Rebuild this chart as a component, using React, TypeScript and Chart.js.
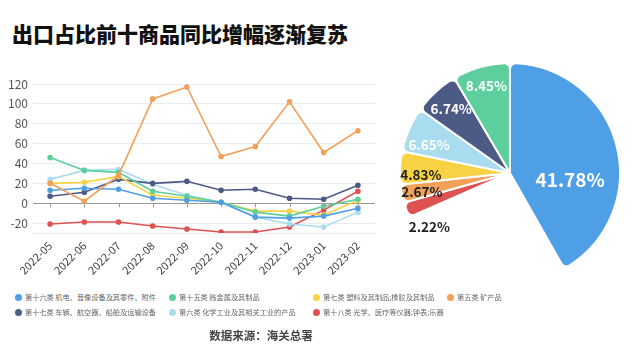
import React, { useEffect, useRef } from "react";
import { Chart, registerables } from "chart.js";

Chart.register(...registerables);

const MONTHS = ["2022-05", "2022-06", "2022-07", "2022-08", "2022-09", "2022-10", "2022-11", "2022-12", "2023-01", "2023-02"];

const SERIES_NAMES = [
  "第十六类 机电、音像设备及其零件、附件",
  "第十五类 贱金属及其制品",
  "第七类 塑料及其制品;橡胶及其制品",
  "第五类 矿产品",
  "第十七类 车辆、航空器、船舶及运输设备",
  "第六类 化学工业及其相关工业的产品",
  "第十八类 光学、医疗等仪器;钟表;乐器",
];
const SERIES_COLORS = ["#4f9fe6", "#5ccf9d", "#f8d245", "#f2a05a", "#4c5a86", "#a9dcef", "#de5252"];

const S16 = [13, 15, 14, 5, 3, 1, -14, -15, -13, -5];
const S15 = [46, 33, 31, 12, 7, 1, -9, -13, -3, 4];
const S07 = [20, 21, 27, 8, 5, 1, -8, -8, -12, 3];
const S05 = [20, 2, 28, 105, 117, 47, 57, 102, 51, 73];
const S17 = [7, 11, 24, 20, 22, 13, 14, 5, 4, 18];
const S06 = [24, 33, 34, 19, 8, 1, -14, -21, -24, -9];
const S18 = [-21, -19, -19, -23, -26, -29, -29, -24, -7, 12];
const SERIES_VALUES = [S16, S15, S07, S05, S17, S06, S18];

const Y_TICKS = [-30, -20, 0, 20, 40, 60, 80, 100, 120];

// export share (%) per series, same order as SERIES_NAMES
const PIE_SHARES = [41.78, 8.45, 4.83, 2.67, 6.74, 6.65, 2.22];
// clockwise drawing order of series indices after the first slice
const PIE_ORDER_FIRST = [0];
const PIE_ORDER_REST = [6, 3, 2, 5, 4, 1];

// label placement: [radius fraction, angle shift in degrees, color, size]
const PIE_LABEL_STYLE: Record<number, [number, number, string, number]> = {
  0: [0.55, 21, "#ffffff", 19],
  6: [0.88, -14, "#222222", 13.5],
  3: [0.82, -1.5, "#222222", 13.5],
  2: [0.81, -3.6, "#222222", 13.5],
  5: [0.78, -4, "#ffffff", 13.5],
  4: [0.79, 0, "#ffffff", 13.5],
  1: [0.82, 0, "#ffffff", 13.5],
};

const FONT = "'Noto Sans CJK SC', 'Noto Sans', sans-serif";

const LEGEND_COLS = [18, 172, 316, 450];
const LEGEND_ROWS = [297, 312];

export default function App() {
  const lineRef = useRef<HTMLCanvasElement>(null);
  const pieRef = useRef<HTMLCanvasElement>(null);

  useEffect(() => {
    document.body.style.margin = "0";
    Chart.defaults.font.family = FONT;

    const zeroTicks = {
      id: "zeroTicks",
      afterDraw(chart: any) {
        const { ctx, scales } = chart;
        const y0 = scales.y.getPixelForValue(0);
        ctx.save();
        ctx.strokeStyle = "#999";
        ctx.lineWidth = 1;
        MONTHS.forEach((_, i) => {
          const x = Math.round(scales.x.getPixelForValue(i)) + 0.5;
          ctx.beginPath();
          ctx.moveTo(x, y0);
          ctx.lineTo(x, y0 + 4);
          ctx.stroke();
        });
        ctx.restore();
      },
    };

    const line = new Chart(lineRef.current!, {
      type: "line",
      data: {
        labels: MONTHS,
        datasets: SERIES_NAMES.map((name, i) => ({
          label: name,
          data: SERIES_VALUES[i],
          borderColor: SERIES_COLORS[i],
          backgroundColor: SERIES_COLORS[i],
          pointBackgroundColor: SERIES_COLORS[i],
          pointBorderColor: SERIES_COLORS[i],
          borderWidth: 1.6,
          pointRadius: 2,
          tension: 0,
          order: i === 3 ? 0 : 1,
        })),
      },
      options: {
        responsive: false,
        animation: false,
        layout: { padding: { top: 24, right: 15, bottom: 0, left: 0 } },
        plugins: { legend: { display: false }, tooltip: { enabled: false } },
        scales: {
          x: {
            offset: true,
            grid: { display: false, drawTicks: false },
            border: { display: false },
            ticks: { minRotation: 45, maxRotation: 45, padding: 6, color: "#444", font: { size: 11 }, autoSkip: false },
            afterFit(scale: any) { scale.height = 52; },
          },
          y: {
            min: -30,
            max: 120,
            afterBuildTicks(scale: any) { scale.ticks = Y_TICKS.map((v) => ({ value: v })); },
            afterFit(scale: any) { scale.width = 33; },
            grid: {
              drawTicks: false,
              color: (c: any) => (c.tick && c.tick.value === 0 ? "#9a9a9a" : "#ececec"),
              lineWidth: 1,
            },
            border: { display: false },
            ticks: {
              padding: 5,
              color: "#555",
              font: { size: 12 },
              callback: (v: any) => (v === -30 ? "" : String(v)),
            },
          },
        },
      },
      plugins: [zeroTicks],
    });

    const order = [...PIE_ORDER_FIRST, -1, ...PIE_ORDER_REST];
    const shown = PIE_SHARES.reduce((a, b) => a + b, 0);
    const pieData = order.map((i) => (i < 0 ? 100 - shown : PIE_SHARES[i]));
    const pieColors = order.map((i) => (i < 0 ? "rgba(0,0,0,0)" : SERIES_COLORS[i]));

    const pieLabels = {
      id: "pieLabels",
      afterDatasetsDraw(chart: any) {
        const { ctx } = chart;
        const meta = chart.getDatasetMeta(0);
        ctx.save();
        ctx.textAlign = "center";
        ctx.textBaseline = "middle";
        meta.data.forEach((arc: any, k: number) => {
          const idx = order[k];
          if (idx < 0) return;
          const [rf, shift, color, size] = PIE_LABEL_STYLE[idx];
          const a = (arc.startAngle + arc.endAngle) / 2 + (shift * Math.PI) / 180;
          const r = arc.outerRadius * rf;
          ctx.font = `bold ${size}px ${FONT}`;
          ctx.fillStyle = color;
          ctx.fillText(PIE_SHARES[idx].toFixed(2) + "%", arc.x + Math.cos(a) * r, arc.y + Math.sin(a) * r);
        });
        ctx.restore();
      },
    };

    const pie = new Chart(pieRef.current!, {
      type: "pie",
      data: {
        labels: order.map((i) => (i < 0 ? "" : SERIES_NAMES[i])),
        datasets: [
          {
            data: pieData,
            backgroundColor: pieColors,
            borderColor: order.map((i) => (i < 0 ? "rgba(0,0,0,0)" : "#ffffff")),
            borderWidth: order.map((i) => (i < 0 ? 0 : 2)),
            borderRadius: 6,
          },
        ],
      },
      options: {
        responsive: false,
        animation: false,
        layout: { padding: { left: 9, right: 19, top: 12, bottom: 12 } },
        plugins: { legend: { display: false }, tooltip: { enabled: false } },
      },
      plugins: [pieLabels],
    });

    return () => {
      line.destroy();
      pie.destroy();
    };
  }, []);

  const legendItems = SERIES_NAMES.map((name, i) => {
    const row = i < 4 ? 0 : 1;
    const col = i < 4 ? i : i - 4;
    return (
      <div
        key={name}
        style={{
          position: "absolute",
          left: LEGEND_COLS[col] - 3.5,
          top: LEGEND_ROWS[row] - 6,
          height: 12,
          display: "flex",
          alignItems: "center",
          whiteSpace: "nowrap",
        }}
      >
        <span style={{ width: 7, height: 7, borderRadius: "50%", background: SERIES_COLORS[i], display: "inline-block", marginRight: 3.5 }} />
        <span style={{ fontSize: 7.2, color: "#666", lineHeight: "12px" }}>{name}</span>
      </div>
    );
  });

  return (
    <div style={{ position: "relative", width: 640, height: 356, background: "#fff", overflow: "hidden", fontFamily: FONT }}>
      <div style={{ position: "absolute", left: 12, top: 20, fontSize: 21, lineHeight: "26px", fontWeight: 900, color: "#111", whiteSpace: "nowrap" }}>
        出口占比前十商品同比增幅逐渐复苏
      </div>
      <canvas ref={lineRef} width={390} height={225} style={{ position: "absolute", left: 0, top: 60, width: 390, height: 225 }} />
      <canvas ref={pieRef} width={250} height={246} style={{ position: "absolute", left: 390, top: 50, width: 250, height: 246 }} />
      {legendItems}
      <div style={{ position: "absolute", left: 161, top: 326, width: 200, textAlign: "center", fontSize: 11.5, lineHeight: "18px", fontWeight: 700, color: "#444" }}>
        数据来源：海关总署
      </div>
    </div>
  );
}
